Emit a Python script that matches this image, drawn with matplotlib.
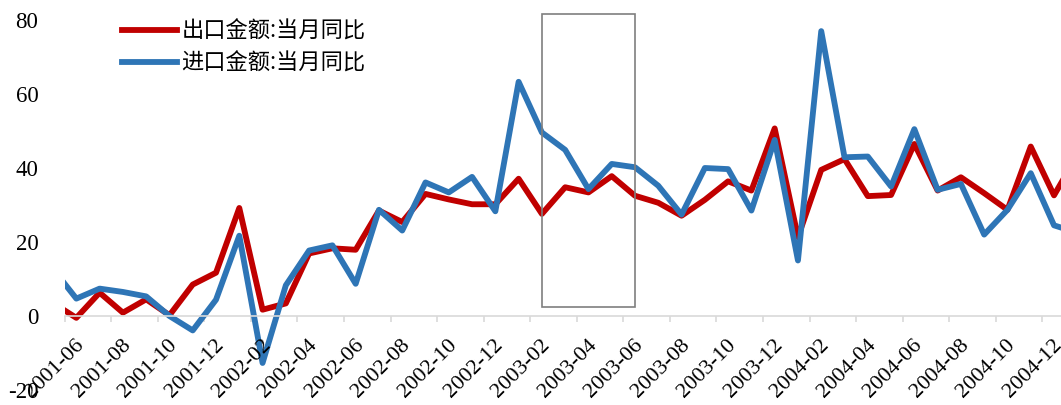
import matplotlib
matplotlib.use("Agg")
import matplotlib.pyplot as plt
import matplotlib.transforms as mtransforms
from matplotlib.patches import Rectangle

# ---- data (monthly, 2001-05 .. 2005-01; first and last are partly outside the view) ----
months = ["2001-05", "2001-06", "2001-07", "2001-08", "2001-09", "2001-10", "2001-11", "2001-12",
          "2002-01", "2002-02", "2002-03", "2002-04", "2002-05", "2002-06", "2002-07", "2002-08",
          "2002-09", "2002-10", "2002-11", "2002-12", "2003-01", "2003-02", "2003-03", "2003-04",
          "2003-05", "2003-06", "2003-07", "2003-08", "2003-09", "2003-10", "2003-11", "2003-12",
          "2004-01", "2004-02", "2004-03", "2004-04", "2004-05", "2004-06", "2004-07", "2004-08",
          "2004-09", "2004-10", "2004-11", "2004-12", "2005-01"]
export_yoy = [3.5, -0.5, 6.3, 0.9, 4.5, 0.2, 8.5, 11.7,
              29.2, 1.7, 3.4, 16.9, 18.3, 17.9, 28.5, 25.4,
              33.0, 31.5, 30.2, 30.2, 37.1, 27.6, 34.8, 33.4,
              37.8, 32.5, 30.6, 27.1, 31.4, 36.4, 33.9, 50.7,
              21.3, 39.5, 42.4, 32.4, 32.7, 46.5, 33.9, 37.5,
              33.2, 28.7, 45.8, 32.6, 43.5]
import_yoy = [12.7, 4.7, 7.4, 6.5, 5.3, 0.0, -3.9, 4.4,
              21.7, -12.7, 8.3, 17.7, 19.1, 8.7, 28.7, 23.1,
              36.1, 33.4, 37.6, 28.3, 63.3, 49.6, 44.9, 34.3,
              41.1, 40.2, 35.2, 27.4, 40.0, 39.7, 28.5, 47.6,
              15.0, 77.0, 42.9, 43.1, 35.0, 50.5, 34.1, 35.7,
              22.0, 28.7, 38.6, 24.5, 22.5]
series_names = ["出口金额:当月同比", "进口金额:当月同比"]
yticks = [-20, 0, 20, 40, 60, 80]
label_months = ["2001-06", "2001-08", "2001-10", "2001-12", "2002-02", "2002-04", "2002-06",
                "2002-08", "2002-10", "2002-12", "2003-02", "2003-04", "2003-06", "2003-08",
                "2003-10", "2003-12", "2004-02", "2004-04", "2004-06", "2004-08", "2004-10",
                "2004-12"]
box_months = ["2003-02", "2003-06"]
box_range = [2.4, 81.6]

RED = "#C00000"
BLUE = "#2E75B6"
GRAY = "#D9D9D9"

plt.rcParams['font.family'] = ['Liberation Serif', 'DejaVu Serif']

fig = plt.figure(figsize=(10.61, 4.05), dpi=100)
ax = fig.add_axes([64.7 / 1061, 15 / 405, 1 - 64.7 / 1061, 370 / 405])

x = list(range(-1, len(months) - 1))  # 2001-06 -> 0
pos = {m: i for m, i in zip(months, x)}

ax.plot(x, export_yoy, color=RED, lw=4.2, solid_joinstyle='round', label=series_names[0])
ax.plot(x, import_yoy, color=BLUE, lw=4.2, solid_joinstyle='round', label=series_names[1])

ax.set_xlim(-0.5, 42.3)
ax.set_ylim(-20, 80)

for s in ['top', 'right', 'left']:
    ax.spines[s].set_visible(False)
ax.spines['bottom'].set_position(('data', 0))
ax.spines['bottom'].set_color(GRAY)
ax.spines['bottom'].set_linewidth(1.2)

ax.set_yticks(yticks)
ax.set_yticklabels([str(v) for v in yticks])
ax.tick_params(axis='y', length=0, pad=19, labelsize=16.5)

bounds = [b - 0.5 for b in range(0, 44, 2)]
ax.set_xticks(bounds)
ax.set_xticklabels([])
ax.tick_params(axis='x', direction='out', length=4.5, width=1.2, color=GRAY)

off = mtransforms.ScaledTranslation(-1.5 / 100, -19.5 / 100, fig.dpi_scale_trans)
for m in label_months:
    ax.text(pos[m], 0, m, transform=ax.transData + off, rotation=45, ha='right', va='top',
            rotation_mode='anchor', fontsize=16, clip_on=False)

rect = Rectangle((pos[box_months[0]], box_range[0]), pos[box_months[1]] - pos[box_months[0]],
                 box_range[1] - box_range[0], fill=False, edgecolor='#7F7F7F', lw=1.2,
                 clip_on=False, zorder=5)
ax.add_patch(rect)

leg = ax.legend(loc='upper left', bbox_to_anchor=(121.7 / 1061, (405 - 19.5) / 405),
                bbox_transform=fig.transFigure, frameon=False, borderpad=0, borderaxespad=0,
                handlelength=2.48, handletextpad=0.22, labelspacing=0.41,
                prop={'family': ['Noto Sans CJK SC', 'DejaVu Sans'], 'size': 16})

fig.savefig("out.png", dpi=100)
